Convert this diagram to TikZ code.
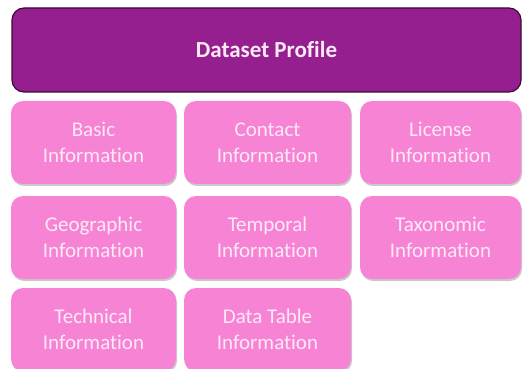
\documentclass[tikz,border=0pt]{standalone}
\usepackage{fontspec}
\setmainfont{Carlito}[Ligatures=NoCommon]
\usetikzlibrary{shadows}
\definecolor{profilepurple}{HTML}{951F8E}
\definecolor{profileedge}{HTML}{3C0A3A}
\definecolor{infopink}{HTML}{F783D5}
\definecolor{infotext}{HTML}{FDEAF6}
\tikzset{
	profile/.style={rectangle, rounded corners=12pt, draw=profileedge, line width=1.2pt,
		fill=profilepurple, text=infotext, minimum width=509pt, minimum height=84pt,
		font=\bfseries\fontsize{23}{27}\selectfont},
	infobox/.style={rectangle, rounded corners=12pt, fill=infopink, text=infotext,
		align=center, minimum height=83pt, font=\fontsize{21}{26}\selectfont,
		drop shadow={shadow xshift=1pt, shadow yshift=-2pt, opacity=0.35, fill=black!60}},
}
\begin{document}
\begin{tikzpicture}[x=1pt,y=-1pt]
	\useasboundingbox (0,0) rectangle (523,369);
	\node (DP) at (266.5, 50)	[profile]	{Dataset Profile};
	\node (BI) at ( 93.5, 142.5)	[infobox, minimum width=165pt]	{Basic\\Information};
	\node (CI) at (267.5, 142.5)	[infobox, minimum width=167pt]	{Contact\\Information};
	\node (LI) at (440.5, 142.5)	[infobox, minimum width=161pt]	{License\\Information};
	\node (GI) at ( 93.5, 237.5)	[infobox, minimum width=165pt]	{Geographic\\Information};
	\node (TI) at (267.5, 237.5)	[infobox, minimum width=167pt]	{Temporal\\Information};
	\node (XI) at (440.5, 237.5)	[infobox, minimum width=161pt]	{Taxonomic\\Information};
	\node (HI) at ( 93.5, 329.5)	[infobox, minimum width=165pt]	{Technical\\Information};
	\node (DI) at (267.5, 329.5)	[infobox, minimum width=167pt]	{Data Table\\Information};
\end{tikzpicture}
\end{document}
